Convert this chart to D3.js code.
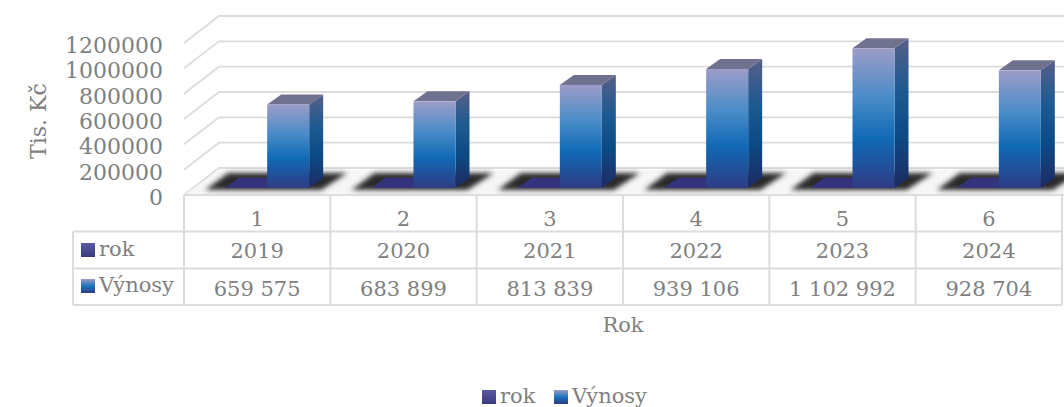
<!DOCTYPE html>
<html>
<head>
<meta charset="utf-8">
<script src="https://cdn.jsdelivr.net/npm/d3@7"></script>
<style>
html, body { margin: 0; padding: 0; background: #fff; overflow: hidden; }
text { font-family: "DejaVu Serif", serif; fill: #808080; font-size: 21px; }
</style>
</head>
<body>
<div id="chart"></div>
<script>
var categories = ["1", "2", "3", "4", "5", "6"];
var years = [2019, 2020, 2021, 2022, 2023, 2024];
var vynosy = [659575, 683899, 813839, 939106, 1102992, 928704];
var yTicks = [0, 200000, 400000, 600000, 800000, 1000000, 1200000];
var seriesNames = ["rok", "Výnosy"];

let svg = d3.select("#chart").append("svg")
    .attr("width", 1064)
    .attr("height", 407);

let defs = svg.append("defs");

function gradient(id, stops) {
    let g = defs.append("linearGradient").attr("id", id)
        .attr("x1", 0).attr("y1", 0).attr("x2", 0).attr("y2", 1);
    stops.forEach(s => g.append("stop").attr("offset", s[0]).attr("stop-color", s[1]));
}
gradient("front", [[0, "#9c9cc8"], [0.35, "#4a8cc8"], [0.65, "#1069b5"], [1, "#2f3c84"]]);
gradient("side", [[0, "#565f88"], [0.35, "#1d5a92"], [0.65, "#0b4b85"], [1, "#1f2a62"]]);
gradient("key1", [[0, "#5a5aa0"], [1, "#3a3a80"]]);
gradient("key2", [[0, "#9c9cc8"], [0.5, "#1a73bd"], [1, "#2f3c84"]]);
defs.append("filter").attr("id", "blur")
    .attr("x", "-20%").attr("y", "-50%").attr("width", "140%").attr("height", "200%")
    .append("feGaussianBlur").attr("stdDeviation", 2.5);

// plot geometry
const left = 184, right = 1062, floorY = 195;
const backDx = 35, backDy = -25;       // floor depth
const barDx = 10, barDy = -7;          // front of the bars on the floor
const sideDx = 14, sideDy = -10;       // depth of a bar
const barW = 42;
const gridColor = "#dcdcdc";

let x = d3.scaleBand().domain(categories).range([left, right]);
let h = d3.scaleLinear().domain([0, 1200000]).range([0, 152]);

// walls grid
let grid = svg.append("g").attr("fill", "none").attr("stroke", gridColor).attr("stroke-width", 1.8);
yTicks.forEach(t => {
    let y = floorY - h(t);
    grid.append("path").attr("d", d3.line()([[left, y], [left + backDx, y + backDy - 2], [1064, y + backDy - 2]]));
});

// floor
svg.append("path")
    .attr("d", d3.line()([[left, floorY], [left + backDx, floorY + backDy], [1064, floorY + backDy], [1064, floorY]]))
    .attr("fill", "#f6f6f6");

// shadows under the bars
svg.append("g").selectAll("path").data(categories).join("path")
    .attr("d", c => {
        let x0 = x(c) + x.bandwidth() / 2;
        return d3.line()([[x0 - 52, floorY - 5], [x0 - 29, floorY - 22], [x0 + 90, floorY - 22], [x0 + 64, floorY - 5]]);
    })
    .attr("fill", "#2a2a2a")
    .attr("filter", "url(#blur)");

svg.append("path")
    .attr("d", d3.line()([[left, floorY], [1064, floorY]]))
    .attr("stroke", gridColor).attr("stroke-width", 2);

// one bar = front, side and top face
function drawBars(values, offset, frontFill, sideFill, topFill) {
    let g = svg.append("g").selectAll("g").data(values).join("g");
    let x0 = (d, i) => x(categories[i]) + x.bandwidth() / 2 + barDx + offset;
    let top = d => floorY + barDy - h(d);
    let base = floorY + barDy;

    g.append("path").attr("fill", sideFill)
        .attr("d", (d, i) => {
            let a = x0(d, i) + barW;
            return d3.line()([[a, top(d)], [a + sideDx, top(d) + sideDy], [a + sideDx, base + sideDy], [a, base]]) + "Z";
        });
    g.append("path").attr("fill", topFill)
        .attr("d", (d, i) => {
            let a = x0(d, i);
            return d3.line()([[a, top(d)], [a + sideDx, top(d) + sideDy], [a + barW + sideDx, top(d) + sideDy], [a + barW, top(d)]]) + "Z";
        });
    g.append("rect").attr("fill", frontFill)
        .attr("x", (d, i) => x0(d, i))
        .attr("y", d => top(d))
        .attr("width", barW)
        .attr("height", d => h(d));
}
drawBars(years, -barW, "#34347c", "#2a2a68", "#34347c");
drawBars(vynosy, 0, "url(#front)", "url(#side)", "#70708f");

// y axis
let yScale = d3.scaleLinear().domain([0, 1200000]).range([floorY, floorY - 152]);
svg.append("g").selectAll("text").data(yTicks).join("text")
    .attr("x", 163)
    .attr("y", d => yScale(d) + 10)
    .attr("text-anchor", "end")
    .style("font-size", "22px")
    .text(d => d);

svg.append("text")
    .attr("transform", "translate(46,121) rotate(-90)")
    .attr("text-anchor", "middle")
    .style("font-size", "22px")
    .text("Tis. Kč");

// data table
const rowY = [floorY, 231.5, 268.5, 305];
const tableLeft = 73;
let table = svg.append("g").attr("stroke", gridColor).attr("stroke-width", 2).attr("fill", "none");
function line(x1, y1, x2, y2) {
    table.append("line").attr("x1", x1).attr("y1", y1).attr("x2", x2).attr("y2", y2);
}
line(tableLeft, rowY[1], right, rowY[1]);
line(tableLeft, rowY[2], right, rowY[2]);
line(tableLeft, rowY[3], right, rowY[3]);
line(tableLeft, rowY[1], tableLeft, rowY[3]);
line(left, rowY[0], left, rowY[3]);
categories.forEach(c => line(x(c) + x.bandwidth(), rowY[0], x(c) + x.bandwidth(), rowY[3]));

let spaced = d => d3.format(",")(d).replace(/,/g, " ");
function tableRow(values, y) {
    svg.append("g").selectAll("text").data(values).join("text")
        .attr("x", (d, i) => x(categories[i]) + x.bandwidth() / 2)
        .attr("y", y)
        .attr("text-anchor", "middle")
        .text(d => d);
}
tableRow(categories, 226);
tableRow(years, 258);
tableRow(vynosy.map(spaced), 296);

// table row keys
seriesNames.forEach((n, i) => {
    let y = i == 0 ? 243 : 279;
    svg.append("rect").attr("x", 81).attr("y", y).attr("width", 14).attr("height", 14)
        .attr("fill", "url(#key" + (i + 1) + ")");
    svg.append("text").attr("x", 99).attr("y", y + 13).text(n);
});

svg.append("text").attr("x", 623).attr("y", 332).attr("text-anchor", "middle").text("Rok");

// bottom legend
const legendX = [482, 554];
seriesNames.forEach((n, i) => {
    svg.append("rect").attr("x", legendX[i]).attr("y", 390).attr("width", 14).attr("height", 14)
        .attr("fill", "url(#key" + (i + 1) + ")");
    svg.append("text").attr("x", legendX[i] + 18).attr("y", 403).text(n);
});
</script>
</body>
</html>
